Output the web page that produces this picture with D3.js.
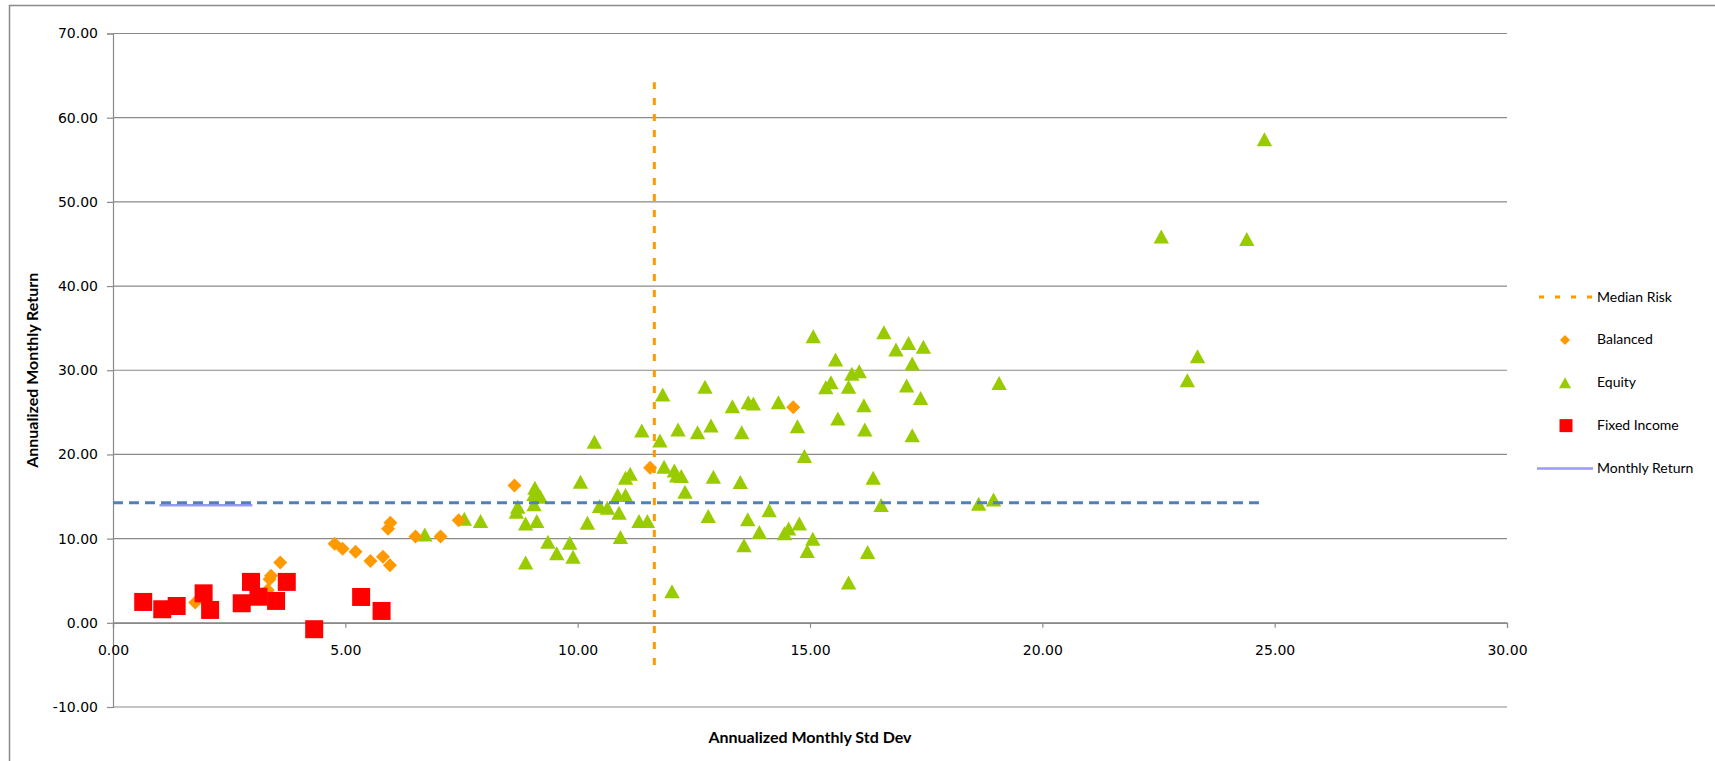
<!DOCTYPE html>
<html>
<head>
<meta charset="utf-8">
<script src="https://cdn.jsdelivr.net/npm/d3@7"></script>
<style>
  body { margin: 0; background: #fff; }
  svg { display: block; }
</style>
</head>
<body>
<svg id="chart"></svg>
<script>
// risk (annualized std dev) vs annualized return, by fund type
const fixedIncome = [
  [0.65, 2.48], [1.06, 1.61], [1.37, 2.0], [1.95, 3.5], [2.09, 1.53],
  [2.77, 2.32], [2.97, 4.86], [3.13, 3.1], [3.51, 2.6], [3.74, 4.86],
  [4.33, -0.76], [5.34, 3.07], [5.78, 1.41]
];

const balanced = [
  [1.77, 2.4], [3.33, 3.9], [3.37, 5.17], [3.4, 5.6], [3.6, 7.15],
  [4.77, 9.4], [4.94, 8.8], [5.22, 8.45], [5.54, 7.35], [5.81, 7.86],
  [5.96, 6.83], [5.92, 11.18], [5.97, 11.9], [6.51, 10.24], [7.05, 10.24],
  [7.44, 12.17], [8.64, 16.32], [11.56, 18.42], [14.64, 25.6]
];

const equity = [
  [6.71, 10.5], [7.56, 12.37], [7.91, 12.09], [8.71, 13.8], [8.68, 13.2],
  [8.88, 11.81], [8.88, 7.15], [9.08, 16.05], [9.06, 15.3], [9.2, 14.98],
  [9.06, 14.07], [9.12, 12.09], [9.36, 9.64], [9.55, 8.26], [9.83, 9.52],
  [9.9, 7.86], [10.06, 16.76], [10.21, 11.9], [10.36, 21.5], [10.47, 13.87],
  [10.64, 13.67], [10.86, 15.17], [10.89, 13.08], [10.92, 10.19], [11.03, 15.17],
  [11.03, 17.24], [11.13, 17.71], [11.32, 12.09], [11.38, 22.85], [11.5, 12.09],
  [11.77, 21.66], [11.83, 27.12], [11.86, 18.54], [12.03, 3.75], [12.08, 18.1],
  [12.13, 17.51], [12.23, 17.43], [12.16, 22.97], [12.31, 15.58], [12.58, 22.65],
  [12.74, 28.03], [12.87, 23.44], [12.92, 17.35], [12.81, 12.68], [13.33, 25.73],
  [13.53, 22.65], [13.5, 16.72], [13.66, 12.29], [13.58, 9.2], [13.67, 26.2],
  [13.78, 26.05], [13.91, 10.78], [14.12, 13.36], [14.32, 26.2], [14.73, 23.36],
  [14.88, 19.8], [14.45, 10.63], [14.54, 11.19], [14.77, 11.81], [14.94, 8.53],
  [15.06, 10.0], [15.07, 34.03], [15.55, 31.27], [15.34, 27.98], [15.45, 28.58],
  [15.6, 24.27], [15.83, 28.03], [15.9, 29.57], [16.06, 29.88], [16.16, 25.85],
  [16.18, 22.97], [16.59, 34.5], [16.85, 32.45], [17.12, 33.25], [17.44, 32.78],
  [17.2, 30.8], [17.08, 28.2], [17.38, 26.7], [17.2, 22.29], [16.36, 17.24],
  [16.53, 13.99], [16.24, 8.41], [15.83, 4.78], [18.63, 14.15], [18.95, 14.66],
  [19.07, 28.5], [23.12, 28.8], [23.34, 31.66], [22.56, 45.9], [24.4, 45.6],
  [24.78, 57.45]
];

const medianRisk = [[11.65, -5], [11.65, 64.2]];
const averageReturn = [[0, 14.27], [24.78, 14.27]];
const monthlyReturn = [[1, 13.95], [3, 13.95]];

const xTicks = [0, 5, 10, 15, 20, 25, 30];
const yTicks = [-10, 0, 10, 20, 30, 40, 50, 60, 70];

const legendItems = ['Median Risk', 'Balanced', 'Equity', 'Fixed Income', 'Monthly Return'];

const width = 1715;
const height = 761;
const gridColour = '#8a8a8a';
const tickFont = '"DejaVu Sans", sans-serif';
const labelFont = 'Lato, "Open Sans", sans-serif';
// excel style: plain hyphen for negatives
const fmt = d => d3.format('.2f')(d).replace('\u2212', '-');

const svg = d3.select('#chart')
  .attr('width', width)
  .attr('height', height);

// outer chart frame (runs off the right and bottom edges)
svg.append('rect')
  .attr('x', 9.5).attr('y', 5.5)
  .attr('width', 1800).attr('height', 900)
  .attr('fill', '#fff')
  .attr('stroke', gridColour)
  .attr('stroke-width', 1.5);

const x = d3.scaleLinear().domain([0, 30]).range([113, 1507]);
const y = d3.scaleLinear().domain([-10, 70]).range([707, 33.5]);

// horizontal gridlines
svg.append('g')
  .selectAll('line')
  .data(yTicks)
  .enter().append('line')
  .attr('x1', x(0)).attr('x2', x(30))
  .attr('y1', d => y(d)).attr('y2', d => y(d))
  .attr('stroke', gridColour)
  .attr('stroke-width', 1.2);

// y axis
const yAxis = svg.append('g')
  .attr('transform', `translate(${x(0)},0)`)
  .call(d3.axisLeft(y).tickValues(yTicks).tickFormat(fmt).tickSize(6).tickPadding(9));

// x axis crosses at y = 0
const xAxis = svg.append('g')
  .attr('transform', `translate(0,${y(0)})`)
  .call(d3.axisBottom(x).tickValues(xTicks).tickFormat(fmt).tickSize(5).tickPadding(17));

[yAxis, xAxis].forEach(a => {
  a.select('.domain').attr('stroke', gridColour).attr('stroke-width', 1.2);
  a.selectAll('.tick line').attr('stroke', gridColour).attr('stroke-width', 1.2);
  a.selectAll('.tick text')
    .attr('fill', '#000')
    .style('font-family', tickFont)
    .style('font-size', '14px');
});

// marker shapes
const triangle = {
  draw(ctx, size) {
    const w = Math.sqrt(size) * 0.55, h = Math.sqrt(size) * 0.5;
    ctx.moveTo(0, -h);
    ctx.lineTo(w, h);
    ctx.lineTo(-w, h);
    ctx.closePath();
  }
};
const diamond = {
  draw(ctx, size) {
    const r = Math.sqrt(size) / 2;
    ctx.moveTo(0, -r);
    ctx.lineTo(r, 0);
    ctx.lineTo(0, r);
    ctx.lineTo(-r, 0);
    ctx.closePath();
  }
};

const series = [
  { name: 'Equity', data: equity, type: triangle, size: 14 * 14, colour: '#99cc00' },
  { name: 'Balanced', data: balanced, type: diamond, size: 14 * 14, colour: '#ff9900' },
  { name: 'Fixed Income', data: fixedIncome, type: d3.symbolSquare, size: 18 * 18, colour: '#ff0000' }
];

series.forEach(s => {
  svg.append('g')
    .selectAll('path')
    .data(s.data)
    .enter().append('path')
    .attr('transform', d => `translate(${x(d[0])},${y(d[1])})`)
    .attr('d', d3.symbol().type(s.type).size(s.size))
    .attr('fill', s.colour);
});

const line = d3.line().x(d => x(d[0])).y(d => y(d[1]));

svg.append('path')
  .attr('d', line(monthlyReturn))
  .attr('fill', 'none')
  .attr('stroke', '#9999ff')
  .attr('stroke-width', 2.5);

svg.append('path')
  .attr('d', line(averageReturn))
  .attr('fill', 'none')
  .attr('stroke', '#4f81bd')
  .attr('stroke-width', 3)
  .attr('stroke-dasharray', '10,6');

svg.append('path')
  .attr('d', line(medianRisk))
  .attr('fill', 'none')
  .attr('stroke', '#ff9900')
  .attr('stroke-width', 3)
  .attr('stroke-dasharray', '7,9');

// axis titles
svg.append('text')
  .attr('x', (x(0) + x(30)) / 2)
  .attr('y', 739)
  .attr('text-anchor', 'middle')
  .attr('dominant-baseline', 'middle')
  .style('font-family', labelFont)
  .style('font-weight', 'bold')
  .style('font-size', '16px')
  .text('Annualized Monthly Std Dev');

svg.append('text')
  .attr('transform', `translate(34,${(y(-10) + y(70)) / 2}) rotate(-90)`)
  .attr('text-anchor', 'middle')
  .attr('dominant-baseline', 'middle')
  .style('font-family', labelFont)
  .style('font-weight', 'bold')
  .style('font-size', '16px')
  .text('Annualized Monthly Return');

// legend
const legendY = d3.scalePoint().domain(legendItems).range([297, 468.5]);
const legend = svg.append('g');

legend.append('line')
  .attr('x1', 1538).attr('x2', 1592)
  .attr('y1', legendY('Median Risk')).attr('y2', legendY('Median Risk'))
  .attr('stroke', '#ff9900').attr('stroke-width', 3)
  .attr('stroke-dasharray', '5,11').attr('stroke-dashoffset', -1);

legend.append('line')
  .attr('x1', 1537).attr('x2', 1593)
  .attr('y1', legendY('Monthly Return')).attr('y2', legendY('Monthly Return'))
  .attr('stroke', '#9999ff').attr('stroke-width', 2.5);

legend.append('path')
  .attr('transform', `translate(1565,${legendY('Balanced')})`)
  .attr('d', d3.symbol().type(diamond).size(10 * 10))
  .attr('fill', '#ff9900');

legend.append('path')
  .attr('transform', `translate(1565,${legendY('Equity')})`)
  .attr('d', d3.symbol().type(triangle).size(11 * 11))
  .attr('fill', '#99cc00');

legend.append('path')
  .attr('transform', `translate(1566,${legendY('Fixed Income')})`)
  .attr('d', d3.symbol().type(d3.symbolSquare).size(13 * 13))
  .attr('fill', '#ff0000');

legend.selectAll('text')
  .data(legendItems)
  .enter().append('text')
  .attr('x', 1597)
  .attr('y', d => legendY(d) + 1)
  .attr('dominant-baseline', 'middle')
  .style('font-family', labelFont)
  .style('font-size', '14px')
  .text(d => d);
</script>
</body>
</html>
